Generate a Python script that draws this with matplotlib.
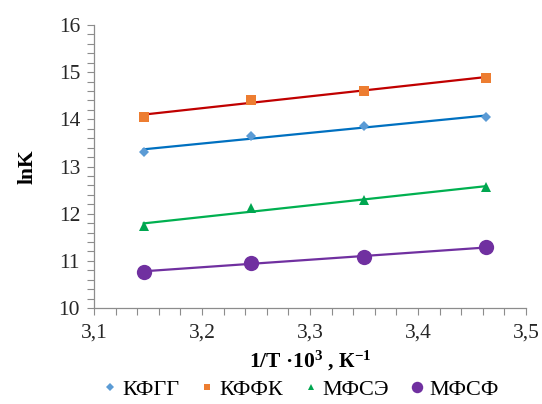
import matplotlib
matplotlib.use("Agg")
import matplotlib.pyplot as plt
import numpy as np
from matplotlib.ticker import MultipleLocator, FuncFormatter

plt.rcParams['font.family'] = ['Liberation Serif', 'DejaVu Serif']
plt.rcParams['mathtext.fontset'] = 'custom'
plt.rcParams['mathtext.rm'] = 'Liberation Serif'
plt.rcParams['mathtext.bf'] = 'Liberation Serif:bold'

x_vals = [3.146, 3.245, 3.350, 3.463]
series_names = ['КФГГ', 'КФФК', 'МФСЭ', 'МФСФ']
kfgg = [13.31, 13.65, 13.86, 14.04]
kffk = [14.06, 14.41, 14.61, 14.88]
mfse = [11.74, 12.12, 12.30, 12.56]
mfsf = [10.77, 10.96, 11.08, 11.29]

series = [kfgg, kffk, mfse, mfsf]
marker_colors = ['#5B9BD5', '#ED7D31', '#00A650', '#7030A0']
line_colors = ['#0070C0', '#C00000', '#00B050', '#7030A0']
markers = ['D', 's', '^', 'o']
msizes = [5.5, 6.5, 6.5, 11]

fig = plt.figure(figsize=(5.42, 4.04), dpi=100)
ax = fig.add_axes([94/542, 1-308/404, (526-94)/542, (308-25)/404])

x = np.array(x_vals)
for ys, name, mc, lc, mk, ms in zip(series, series_names, marker_colors, line_colors, markers, msizes):
    ys = np.array(ys)
    k, b = np.polyfit(x, ys, 1)
    ax.plot(x, k*x + b, color=lc, lw=1.6, zorder=2)
    ax.plot(x, ys, linestyle='none', marker=mk, color=mc, ms=ms, label=name, zorder=3,
            markeredgewidth=0)

ax.set_xlim(3.1, 3.5)
ax.set_ylim(10, 16)
ax.xaxis.set_major_locator(MultipleLocator(0.1))
ax.xaxis.set_minor_locator(MultipleLocator(0.02))
ax.yaxis.set_major_locator(MultipleLocator(1))
ax.yaxis.set_minor_locator(MultipleLocator(0.2))
ax.xaxis.set_major_formatter(FuncFormatter(lambda v, p: f"{v:.1f}".replace('.', ',')))
ax.yaxis.set_major_formatter(FuncFormatter(lambda v, p: f"{v:.0f}"))

for s in ['top', 'right']:
    ax.spines[s].set_visible(False)
for s in ['left', 'bottom']:
    ax.spines[s].set_color('#8C8C8C')
    ax.spines[s].set_linewidth(0.9)
ax.tick_params(which='both', direction='out', color='#8C8C8C', width=0.8, length=5,
               labelsize=15.5, labelcolor='#262626')
ax.tick_params(axis='x', which='both', pad=6)
ax.tick_params(axis='y', which='both', pad=5)

ax.set_ylabel('lnK', fontsize=15.5, fontweight='bold', labelpad=15)
ax.set_xlabel(r'1/T ·10$\mathbf{^{3}}$ , К$\mathbf{^{-1}}$', fontsize=15.5, fontweight='bold', labelpad=5)

leg = fig.legend(loc='lower center', bbox_to_anchor=(0.55, -0.04), ncol=4, frameon=False,
                 fontsize=16, handletextpad=0.0, columnspacing=0.7, markerscale=0.75,
                 handlelength=1.1)

fig.savefig('out.png', dpi=100)
